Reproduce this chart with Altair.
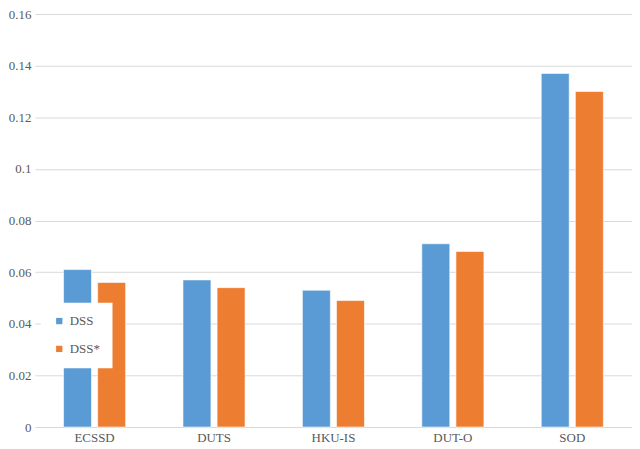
import altair as alt
import pandas as pd

categories = ["ECSSD", "DUTS", "HKU-IS", "DUT-O", "SOD"]
series = ["DSS", "DSS*"]
dss = [0.061, 0.057, 0.053, 0.071, 0.137]
dss_star = [0.056, 0.054, 0.049, 0.068, 0.130]
y_ticks = [0, 0.02, 0.04, 0.06, 0.08, 0.10, 0.12, 0.14, 0.16]
colors = ["#5B9BD5", "#ED7D31"]

rows = []
for c, a, b in zip(categories, dss, dss_star):
    rows.append({"dataset": c, "series": series[0], "value": a})
    rows.append({"dataset": c, "series": series[1], "value": b})
df = pd.DataFrame(rows)

font = "'Liberation Serif', 'Times New Roman', 'DejaVu Serif', serif"
grey = "#595959"
light = "#D9D9D9"

chart = alt.Chart(df).mark_bar(stroke="white", strokeWidth=0.6).encode(
    x=alt.X(
        "dataset:N",
        sort=categories,
        scale=alt.Scale(paddingInner=0.48, paddingOuter=0.24),
        axis=alt.Axis(
            title=None, labelAngle=0, ticks=False, domainColor=light,
            labelFont=font, labelFontSize=13, labelColor=grey, labelPadding=5,
            grid=False,
        ),
    ),
    xOffset=alt.XOffset("series:N", sort=series, scale=alt.Scale(paddingInner=0.18)),
    y=alt.Y(
        "value:Q",
        scale=alt.Scale(domain=[0, 0.16], nice=False),
        axis=alt.Axis(
            title=None, values=y_ticks, format="~g", domain=False, ticks=False,
            grid=True, gridColor=light, labelFont=font, labelFontSize=13,
            labelColor=grey, labelPadding=4,
        ),
    ),
    color=alt.Color(
        "series:N",
        sort=series,
        scale=alt.Scale(domain=series, range=colors),
        legend=alt.Legend(
            title=None, orient="none", legendX=6, legendY=290,
            fillColor="white", padding=12, rowPadding=14,
            symbolType="square", symbolSize=40, symbolStrokeWidth=0,
            labelFont=font, labelFontSize=13, labelColor=grey, labelOffset=4,
        ),
    ),
).properties(
    width=600,
    height=415,
    autosize=alt.AutoSizeParams(type="none"),
    padding={"left": 27, "top": 5, "right": 0, "bottom": 20},
).configure(font=font).configure_view(stroke=None)

chart.save("out.html", embed_options={"renderer": "svg", "actions": False})
